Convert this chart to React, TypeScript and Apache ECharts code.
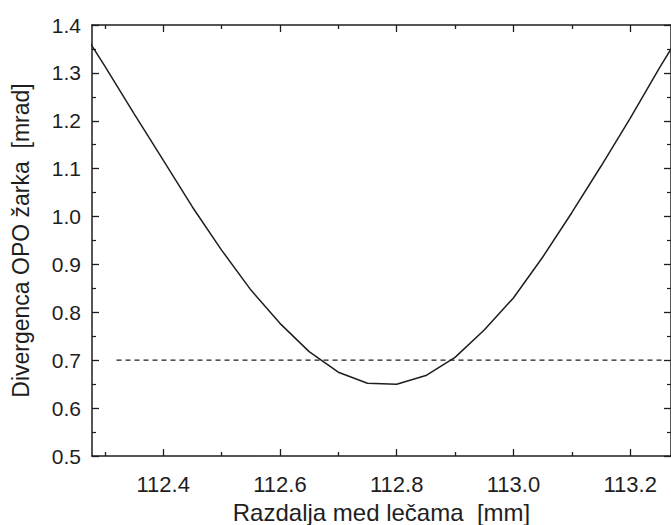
import React, { useEffect, useRef } from "react";
import * as echarts from "echarts";

// Lens distance [mm] and OPO beam divergence [mrad]
const lensDistance = [112.25, 112.3, 112.35, 112.4, 112.45, 112.5, 112.55, 112.6, 112.65, 112.7, 112.75, 112.8, 112.85, 112.9, 112.95, 113.0, 113.05, 113.1, 113.15, 113.2, 113.25, 113.3];
const divergence = [1.41, 1.314, 1.215, 1.118, 1.02, 0.93, 0.847, 0.777, 0.718, 0.675, 0.652, 0.65, 0.668, 0.706, 0.763, 0.83, 0.915, 1.008, 1.105, 1.205, 1.31, 1.41];

// Dashed reference level
const thresholdX = [112.32, 113.26];
const thresholdValue = 0.7;

// Axis ticks
const xMajorTicks = [112.4, 112.6, 112.8, 113.0, 113.2];
const xMinorTicks = [112.3, 112.5, 112.7, 112.9, 113.1];
const xMin = 112.278;
const xMax = 113.27;
const yMin = 0.5;
const yMax = 1.4;
const yStep = 0.1;

const xTitle = "Razdalja med lečama  [mm]";
const yTitle = "Divergenca OPO žarka  [mrad]";

const INK = "#1e1e1e";
const FONT = "Liberation Sans, Arial, sans-serif";

export default function App() {
  const ref = useRef<HTMLDivElement>(null);

  useEffect(() => {
    document.body.style.margin = "0";
    if (!ref.current) return;
    const chart = echarts.init(ref.current, undefined, { renderer: "svg" });

    const line = { show: true, lineStyle: { color: INK, width: 1.5 } };

    const makeX = (position: string, ticks: number[], len: number, labels: boolean, showLine: boolean) => ({
      type: "value",
      position,
      min: xMin,
      max: xMax,
      axisLine: showLine ? line : { show: false },
      splitLine: { show: false },
      axisTick: {
        show: true,
        inside: true,
        length: len,
        customValues: ticks,
        lineStyle: { color: INK, width: 1.3 },
      },
      axisLabel: labels
        ? {
            show: true,
            customValues: ticks,
            formatter: (v: number) => v.toFixed(1),
            color: INK,
            fontFamily: FONT,
            fontSize: 22,
            margin: 17,
          }
        : { show: false },
    });

    const makeY = (position: string, labels: boolean) => ({
      type: "value",
      position,
      min: yMin,
      max: yMax,
      interval: yStep,
      axisLine: line,
      splitLine: { show: false },
      axisTick: { show: true, inside: true, length: 7, lineStyle: { color: INK, width: 1.3 } },
      minorTick: { show: true, splitNumber: 2, length: 4, lineStyle: { color: INK, width: 1.2 } },
      axisLabel: labels
        ? {
            show: true,
            formatter: (v: number) => v.toFixed(1),
            color: INK,
            fontFamily: FONT,
            fontSize: 21,
            margin: 11,
          }
        : { show: false },
    });

    const xMainAxis: any = makeX("bottom", xMajorTicks, 7, true, true);
    xMainAxis.name = xTitle;
    xMainAxis.nameLocation = "middle";
    xMainAxis.nameGap = 44;
    xMainAxis.nameTextStyle = { color: INK, fontFamily: FONT, fontSize: 24 };

    const yMainAxis: any = makeY("left", true);
    yMainAxis.name = yTitle;
    yMainAxis.nameLocation = "middle";
    yMainAxis.nameGap = 60;
    yMainAxis.nameTextStyle = { color: INK, fontFamily: FONT, fontSize: 23 };

    chart.setOption({
      animation: false,
      backgroundColor: "#ffffff",
      grid: { left: 92, top: 25, right: 0, bottom: 69, containLabel: false, outerBoundsMode: "none" },
      xAxis: [
        xMainAxis,
        makeX("bottom", xMinorTicks, 4, false, false),
        makeX("top", xMajorTicks, 7, false, true),
        makeX("top", xMinorTicks, 4, false, false),
      ],
      yAxis: [yMainAxis, makeY("right", false)],
      series: [
        {
          type: "line",
          xAxisIndex: 0,
          yAxisIndex: 0,
          data: lensDistance.map((x, i) => [x, divergence[i]]),
          showSymbol: false,
          lineStyle: { color: INK, width: 1.5 },
          clip: true,
        },
        {
          type: "line",
          xAxisIndex: 0,
          yAxisIndex: 0,
          data: thresholdX.map((x) => [x, thresholdValue]),
          showSymbol: false,
          lineStyle: { color: INK, width: 1.2, type: [5, 4] },
        },
      ],
    });

    return () => chart.dispose();
  }, []);

  return <div ref={ref} style={{ width: 671, height: 525 }} />;
}
